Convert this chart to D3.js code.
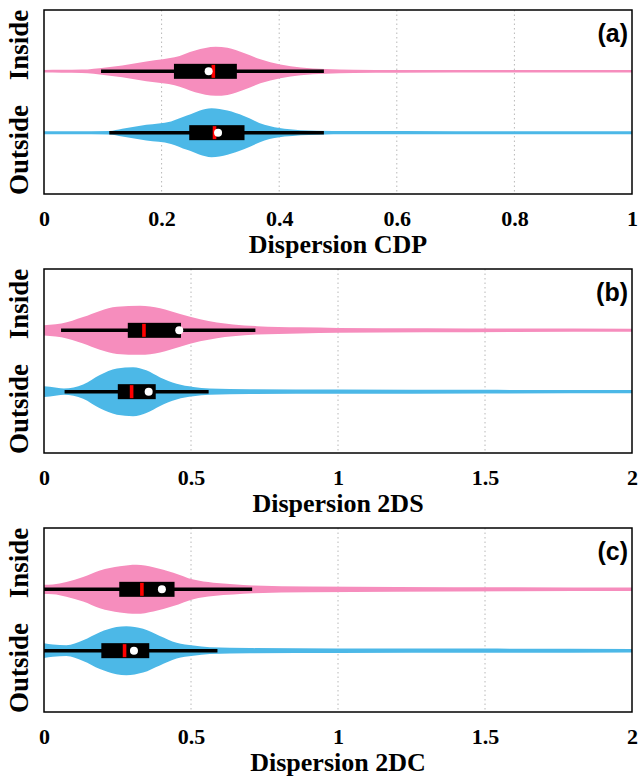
<!DOCTYPE html>
<html><head><meta charset="utf-8">
<script src="https://cdn.jsdelivr.net/npm/d3@7"></script>
<style>body{margin:0;background:#fff}</style>
</head><body>
<svg id="chart" width="638" height="780"></svg>
<script>
// ---------- data ----------
const groups = ["Inside", "Outside"];
const panelLabels = ["(a)", "(b)", "(c)"];
const xTitles = ["Dispersion CDP", "Dispersion 2DS", "Dispersion 2DC"];
const xMaxes = [1, 2, 2];
const tickValuesA = [0, 0.2, 0.4, 0.6, 0.8, 1];
const tickLabelsA = ["0", "0.2", "0.4", "0.6", "0.8", "1"];
const tickValuesBC = [0, 0.5, 1, 1.5, 2];
const tickLabelsBC = ["0", "0.5", "1", "1.5", "2"];

// violin density profiles (x value, relative density)
const cdpInsideX  = [0, 0.03, 0.064, 0.105, 0.133, 0.174, 0.202, 0.222, 0.257, 0.292, 0.312, 0.34, 0.368, 0.402, 0.437, 0.478, 0.527, 0.6, 0.8, 1.0];
const cdpInsideD  = [0.05, 0.06, 0.07, 0.16, 0.24, 0.40, 0.49, 0.57, 0.85, 1.00, 0.96, 0.75, 0.49, 0.28, 0.16, 0.10, 0.065, 0.055, 0.05, 0.05];
const cdpOutsideX = [0, 0.05, 0.111, 0.133, 0.174, 0.216, 0.243, 0.285, 0.312, 0.34, 0.375, 0.409, 0.464, 0.52, 0.7, 1.0];
const cdpOutsideD = [0.06, 0.06, 0.07, 0.16, 0.32, 0.46, 0.70, 1.00, 0.90, 0.68, 0.32, 0.16, 0.08, 0.065, 0.06, 0.06];

const dsInsideX  = [0, 0.02, 0.059, 0.133, 0.19, 0.248, 0.327, 0.395, 0.463, 0.531, 0.588, 0.643, 0.724, 0.87, 1.0, 1.3, 1.6, 2.0];
const dsInsideD  = [0.21, 0.23, 0.28, 0.54, 0.79, 0.96, 1.00, 0.90, 0.67, 0.45, 0.32, 0.24, 0.17, 0.125, 0.10, 0.083, 0.07, 0.062];
const dsOutsideX = [0, 0.02, 0.068, 0.133, 0.19, 0.248, 0.303, 0.348, 0.395, 0.451, 0.508, 0.563, 0.7, 1.0, 1.5, 2.0];
const dsOutsideD = [0.22, 0.20, 0.13, 0.29, 0.68, 0.94, 1.00, 0.87, 0.58, 0.32, 0.19, 0.13, 0.10, 0.087, 0.074, 0.065];

const dcInsideX  = [0, 0.03, 0.076, 0.133, 0.19, 0.258, 0.315, 0.372, 0.44, 0.508, 0.576, 0.644, 0.712, 0.9, 1.2, 1.6, 2.0];
const dcInsideD  = [0.19, 0.20, 0.30, 0.50, 0.77, 0.94, 1.00, 0.90, 0.68, 0.40, 0.27, 0.21, 0.16, 0.12, 0.10, 0.08, 0.07];
const dcOutsideX = [0, 0.03, 0.076, 0.133, 0.19, 0.246, 0.28, 0.337, 0.394, 0.451, 0.508, 0.564, 0.7, 1.0, 1.5, 2.0];
const dcOutsideD = [0.30, 0.25, 0.22, 0.42, 0.75, 0.96, 1.00, 0.89, 0.60, 0.32, 0.21, 0.14, 0.105, 0.093, 0.084, 0.072];

// box stats: [whisker low, q1, median, q3, whisker high, mean]
const cdpInsideBox  = [0.097, 0.221, 0.288, 0.328, 0.476, 0.280];
const cdpOutsideBox = [0.111, 0.247, 0.290, 0.341, 0.476, 0.296];
const dsInsideBox   = [0.058, 0.285, 0.340, 0.466, 0.719, 0.460];
const dsOutsideBox  = [0.070, 0.251, 0.298, 0.380, 0.560, 0.356];
const dcInsideBox   = [0.0, 0.256, 0.333, 0.444, 0.708, 0.401];
const dcOutsideBox  = [0.0, 0.195, 0.274, 0.358, 0.590, 0.306];

// ---------- layout ----------
const W = 638;
const left = 44, right = 632, plotH = 184;
const tops = [10, 269, 528];
const colors = { Inside: "#f68dbd", Outside: "#4cb8e7" };
const serif = "'Liberation Serif','Times New Roman',serif";
const sans = "'Liberation Sans',Arial,sans-serif";

const panels = [
  { ticks: tickValuesA, labels: tickLabelsA,
    violins: [[cdpInsideX, cdpInsideD], [cdpOutsideX, cdpOutsideD]],
    boxes: [cdpInsideBox, cdpOutsideBox] },
  { ticks: tickValuesBC, labels: tickLabelsBC,
    violins: [[dsInsideX, dsInsideD], [dsOutsideX, dsOutsideD]],
    boxes: [dsInsideBox, dsOutsideBox] },
  { ticks: tickValuesBC, labels: tickLabelsBC,
    violins: [[dcInsideX, dcInsideD], [dcOutsideX, dcOutsideD]],
    boxes: [dcInsideBox, dcOutsideBox] }
];

const svg = d3.select("#chart");
svg.append("rect").attr("width", W).attr("height", 780).attr("fill", "#fff");

panels.forEach((p, i) => {
  const top = tops[i];
  const x = d3.scaleLinear().domain([0, xMaxes[i]]).range([0, right - left]);
  const y = d3.scaleLinear().domain([0, 3]).range([0, plotH]);
  const pos = d3.scaleOrdinal().domain(groups).range([1, 2]);
  const halfW = 0.4;

  const g = svg.append("g").attr("transform", `translate(${left},${top})`);
  const clipId = "clip" + i;
  g.append("clipPath").attr("id", clipId).append("rect")
    .attr("width", right - left).attr("height", plotH);

  // grid
  g.append("g").selectAll("line").data(p.ticks.filter(t => t > 0 && t < xMaxes[i]))
    .join("line")
    .attr("x1", d => x(d)).attr("x2", d => x(d))
    .attr("y1", 0).attr("y2", plotH)
    .attr("stroke", "#b8b8b8").attr("stroke-width", 1)
    .attr("stroke-dasharray", "1.5,3");

  const plot = g.append("g").attr("clip-path", `url(#${clipId})`);

  groups.forEach((grp, k) => {
    const [xs, ds] = p.violins[k];
    const pts = xs.map((v, j) => ({ x: v, d: ds[j] }));
    const c = pos(grp);
    const area = d3.area()
      .x(d => x(d.x))
      .y0(d => y(c - d.d * halfW))
      .y1(d => y(c + d.d * halfW))
      .curve(d3.curveMonotoneX);
    plot.append("path").datum(pts).attr("d", area).attr("fill", colors[grp]);

    const b = p.boxes[k];
    const cy = y(c);
    // whisker
    plot.append("line")
      .attr("x1", x(b[0])).attr("x2", x(b[4]))
      .attr("y1", cy).attr("y2", cy)
      .attr("stroke", "#000").attr("stroke-width", 3.5);
    // box
    plot.append("rect")
      .attr("x", x(b[1])).attr("width", x(b[3]) - x(b[1]))
      .attr("y", cy - 7.5).attr("height", 15)
      .attr("fill", "#000");
    // median
    plot.append("rect")
      .attr("x", x(b[2]) - 1.8).attr("width", 3.6)
      .attr("y", cy - 6.5).attr("height", 13)
      .attr("fill", "#ff0000");
    // mean
    plot.append("circle")
      .attr("cx", x(b[5])).attr("cy", cy).attr("r", 4)
      .attr("fill", "#fff");
  });

  // frame
  g.append("rect").attr("width", right - left).attr("height", plotH)
    .attr("fill", "none").attr("stroke", "#000").attr("stroke-width", 1.5);

  // x axis
  const axis = d3.axisBottom(x).tickValues(p.ticks)
    .tickFormat((d, j) => p.labels[j]).tickSize(0).tickPadding(16);
  const ax = g.append("g").attr("transform", `translate(0,${plotH})`).call(axis);
  ax.select(".domain").remove();
  ax.selectAll("text").attr("font-family", serif).attr("font-weight", "bold")
    .attr("font-size", 22).attr("fill", "#000");

  // x title
  g.append("text").attr("x", (right - left) / 2).attr("y", plotH + 59)
    .attr("text-anchor", "middle").attr("font-family", serif)
    .attr("font-weight", "bold").attr("font-size", 26).text(xTitles[i]);

  // y labels
  const yLabelCenters = [35, 140];
  groups.forEach((grp, k) => {
    svg.append("text")
      .attr("transform", `translate(28,${top + yLabelCenters[k]}) rotate(-90)`)
      .attr("text-anchor", "middle").attr("font-family", serif)
      .attr("font-weight", "bold").attr("font-size", 27).text(grp);
  });

  // panel label
  g.append("text").attr("x", right - left - 4).attr("y", 32)
    .attr("text-anchor", "end").attr("font-family", sans)
    .attr("font-weight", "bold").attr("font-size", 25).text(panelLabels[i]);
});
</script>
</body></html>
